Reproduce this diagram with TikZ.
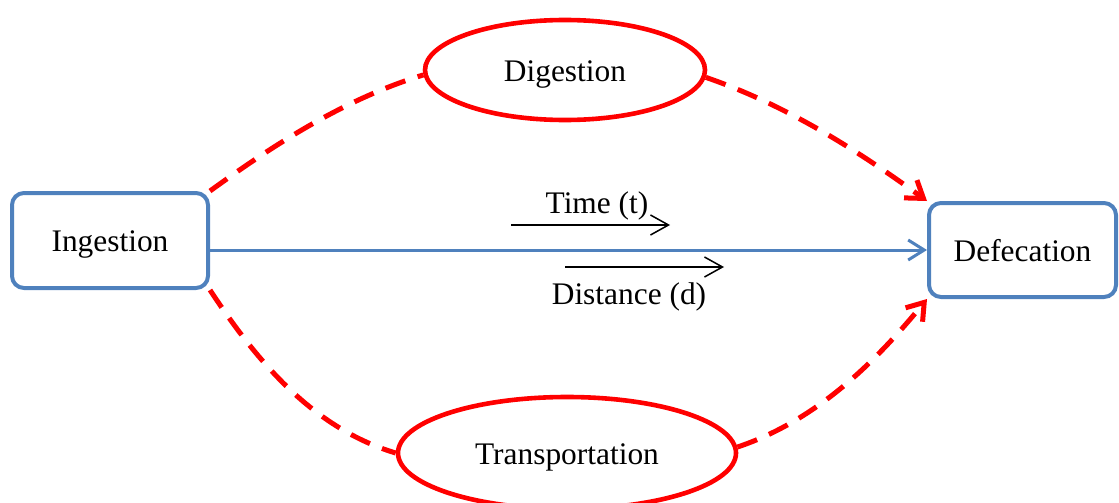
\documentclass[tikz,border=0pt]{standalone}
\usepackage{fontspec}
\setmainfont{Liberation Serif}
\usetikzlibrary{arrows.meta,shapes.geometric}
\definecolor{boxBlue}{HTML}{4F81BD}
\definecolor{flowRed}{HTML}{FF0000}
\tikzset{
  font=\fontsize{15.7}{18}\selectfont,
  stagebox/.style={rectangle,rounded corners=6pt,draw=boxBlue,line width=2pt,fill=white,
    inner sep=0pt,align=center,text height=13pt,text depth=2pt},
  phase/.style={ellipse,draw=flowRed,line width=2.3pt,fill=white,inner sep=0pt,align=center,
    text height=13pt,text depth=2pt},
  route/.style={draw=flowRed,line width=2.5pt,dash pattern=on 10.5pt off 6.5pt},
  routearrow/.style={route,-{Straight Barb[length=8pt,width=11pt,line width=2.5pt]}},
  mainflow/.style={draw=boxBlue,line width=1.5pt,-{Straight Barb[length=8pt,width=10pt]}},
  measure/.style={draw=black,line width=0.75pt,-{Straight Barb[length=9pt,width=10pt]}},
}
\begin{document}
\begin{tikzpicture}[x=0.5pt,y=-0.5pt]
\useasboundingbox (0,0) rectangle (1119,503);

\node[stagebox,minimum width=98pt,minimum height=47.5pt] (ing) at (110,240.5) {Ingestion};
\node[stagebox,minimum width=93.5pt,minimum height=47pt] (def) at (1022.5,250) {Defecation};

\node[phase,minimum width=140pt,minimum height=50pt] (dig) at (565,70) {Digestion};
\node[phase,minimum width=169pt,minimum height=56pt] (tra) at (567,453) {Transportation};

% dashed routes through the two phases
\draw[route] (ing.north east) .. controls (272,146) and (344,99) .. (dig.182);
\draw[routearrow] (dig.357) .. controls (789,106) and (861,153) .. (def.north west);
\draw[route] (ing.south east) .. controls (256,360) and (312,428) .. (tra.west);
\draw[routearrow] (tra.2) .. controls (818,420) and (877,360) .. (def.south west);

\draw[mainflow] (def.west -| ing.east) -- (def.west);

\node[anchor=base] (time) at (597,213) {Time (t)};
\coordinate (t0) at (511,225);
\coordinate (t1) at (670,225);
\draw[measure] (t0) -- (t1);

\node[anchor=base] (dist) at (629,304) {Distance (d)};
\coordinate (d0) at (565,267);
\coordinate (d1) at (724,267);
\draw[measure] (d0) -- (d1);

\end{tikzpicture}
\end{document}
